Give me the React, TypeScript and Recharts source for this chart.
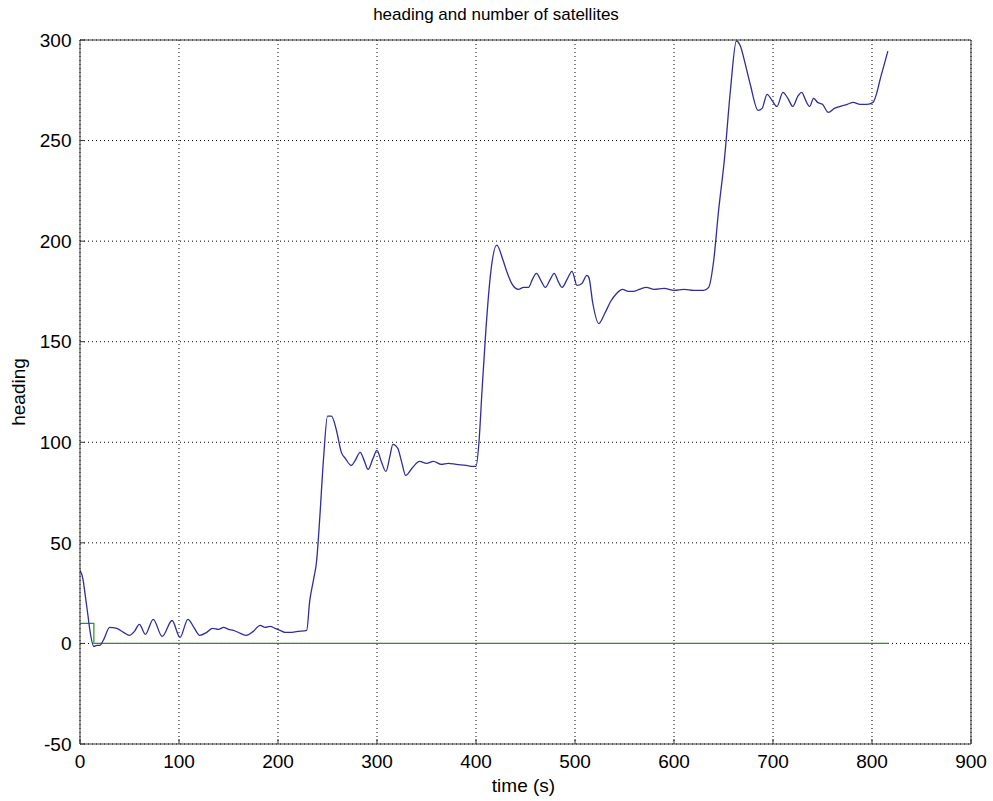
import { CartesianGrid, Line, LineChart, XAxis, YAxis } from "recharts";

// heading trace (blue)
const timeSec = [
  0, 3, 5, 8, 10, 14, 17, 20, 24, 30, 37, 44, 50, 55, 60, 66, 74, 83, 93, 101,
  109, 115, 121, 128, 134, 140, 145, 150, 155, 162, 168, 175, 182, 187, 192, 197,
  202, 207, 212, 220, 229, 232, 236, 239, 242, 246, 250, 254, 259, 264, 268, 274,
  278, 283, 287, 291, 296, 300, 304, 309, 313, 316, 321, 325, 329, 336, 343, 350,
  357, 365, 372, 380, 390, 397, 400, 403, 406, 410, 415, 421, 427, 431, 436, 443,
  448, 453, 457, 461, 466, 470, 475, 479, 483, 487, 492, 497, 502, 507, 512, 514,
  518, 524, 530, 536, 542, 548, 554, 559, 565, 572, 580, 590, 600, 610, 620, 630,
  635, 640, 645, 651, 657, 663, 667, 672, 677, 685, 689, 694, 699, 704, 710, 715,
  720, 725, 729, 733, 737, 741, 745, 750, 756, 762, 768, 775, 781, 788, 795, 801,
  805, 808, 813, 816,
];
const heading = [
  36.3, 32, 25, 14, 6.5, -1.5, -1, -1, 2, 8, 7.5, 5.5, 4, 6, 9.5, 4.5, 12, 3.5, 11.4, 3,
  12, 8, 4, 5.5, 7.5, 7, 8, 7, 6.5, 5, 4, 6, 9, 8, 8.5, 7.5,
  6.5, 5.5, 5.5, 6, 6.5, 21, 32, 41, 61, 92, 113, 113, 106, 95, 92, 88.5,
  91, 95, 91, 86.5, 92, 96, 91, 85.5, 93, 99, 97, 90, 83.5, 87.5, 90.5, 89.5,
  90.5, 89, 89.5, 89, 88.5, 88, 88, 100, 125, 156, 185, 198, 191, 185, 179, 176,
  177, 177, 181, 184, 180, 177, 181, 184, 180, 177, 181, 185, 178, 179, 183, 182,
  169, 159, 164, 170, 174, 176, 175, 175, 176, 177, 176, 176.5, 175.5, 176, 175.5, 175.5,
  177, 190, 215, 241, 275, 299.5, 297, 288, 278, 265, 266, 273, 270, 267, 274, 271,
  267, 272, 274, 270, 267, 271, 269, 268, 264, 266, 267, 268, 269, 268, 268, 269,
  274, 280, 289, 294.5,
];

// number of satellites (green)
const satTime = [0, 14, 14, 817];
const satCount = [10, 10, 0, 0];

const xTicks = [0, 100, 200, 300, 400, 500, 600, 700, 800, 900];
const yTicks = [-50, 0, 50, 100, 150, 200, 250, 300];

const headingData = timeSec.map((t, i) => ({ t, v: heading[i] }));
const satData = satTime.map((t, i) => ({ t, v: satCount[i] }));

const FONT = "'Liberation Sans', Arial, sans-serif";
const AXIS = "#333";

const YLabel = ({ viewBox }: any) => {
  const cy = viewBox.y + viewBox.height / 2;
  return (
    <text
      x={18}
      y={cy}
      transform={`rotate(-90, 18, ${cy})`}
      textAnchor="middle"
      dominantBaseline="central"
      fontSize={19}
      fill="#000"
      fontFamily={FONT}
    >
      heading
    </text>
  );
};

const XLabel = ({ viewBox }: any) => {
  const cx = viewBox.x + viewBox.width / 2;
  return (
    <text x={cx - 2} y={792} textAnchor="middle" fontSize={19} fill="#000" fontFamily={FONT}>
      time (s)
    </text>
  );
};

export default function App() {
  return (
    <div style={{ position: "absolute", left: 0, top: 0, width: 993, height: 801, background: "#fff", fontFamily: FONT }}>
      <div
        style={{
          position: "absolute",
          left: 296,
          top: 4,
          width: 400,
          textAlign: "center",
          fontSize: 17,
          lineHeight: "22px",
          color: "#000",
        }}
      >
        heading and number of satellites
      </div>
      <LineChart width={993} height={801} margin={{ top: 0, right: 0, bottom: 0, left: 0 }}>
        <CartesianGrid stroke="#000" strokeDasharray="1 3" />
        <XAxis
          dataKey="t"
          type="number"
          domain={[0, 900]}
          ticks={xTicks}
          height={57}
          stroke={AXIS}
          tickSize={-5}
          tickMargin={16}
          tick={{ fill: "#000", fontSize: 19, fontFamily: FONT }}
          allowDataOverflow
          label={<XLabel />}
        />
        <XAxis
          xAxisId="top"
          orientation="top"
          type="number"
          domain={[0, 900]}
          ticks={xTicks}
          height={40}
          stroke={AXIS}
          tickSize={-5}
          tick={false}
        />
        <YAxis
          type="number"
          domain={[-50, 300]}
          ticks={yTicks}
          width={80}
          stroke={AXIS}
          tickSize={-5}
          tickMargin={13.5}
          tick={{ fill: "#000", fontSize: 19, fontFamily: FONT }}
          allowDataOverflow
          label={<YLabel />}
        />
        <YAxis
          yAxisId="right"
          orientation="right"
          type="number"
          domain={[-50, 300]}
          ticks={yTicks}
          width={22}
          stroke={AXIS}
          tickSize={-5}
          tick={false}
        />
        <Line
          data={satData}
          dataKey="v"
          stroke="#1f9a1f"
          strokeWidth={1.2}
          dot={false}
          isAnimationActive={false}
        />
        <Line
          type="monotone"
          data={headingData}
          dataKey="v"
          stroke="#2f2f9c"
          strokeWidth={1.3}
          dot={false}
          isAnimationActive={false}
        />
      </LineChart>
    </div>
  );
}
